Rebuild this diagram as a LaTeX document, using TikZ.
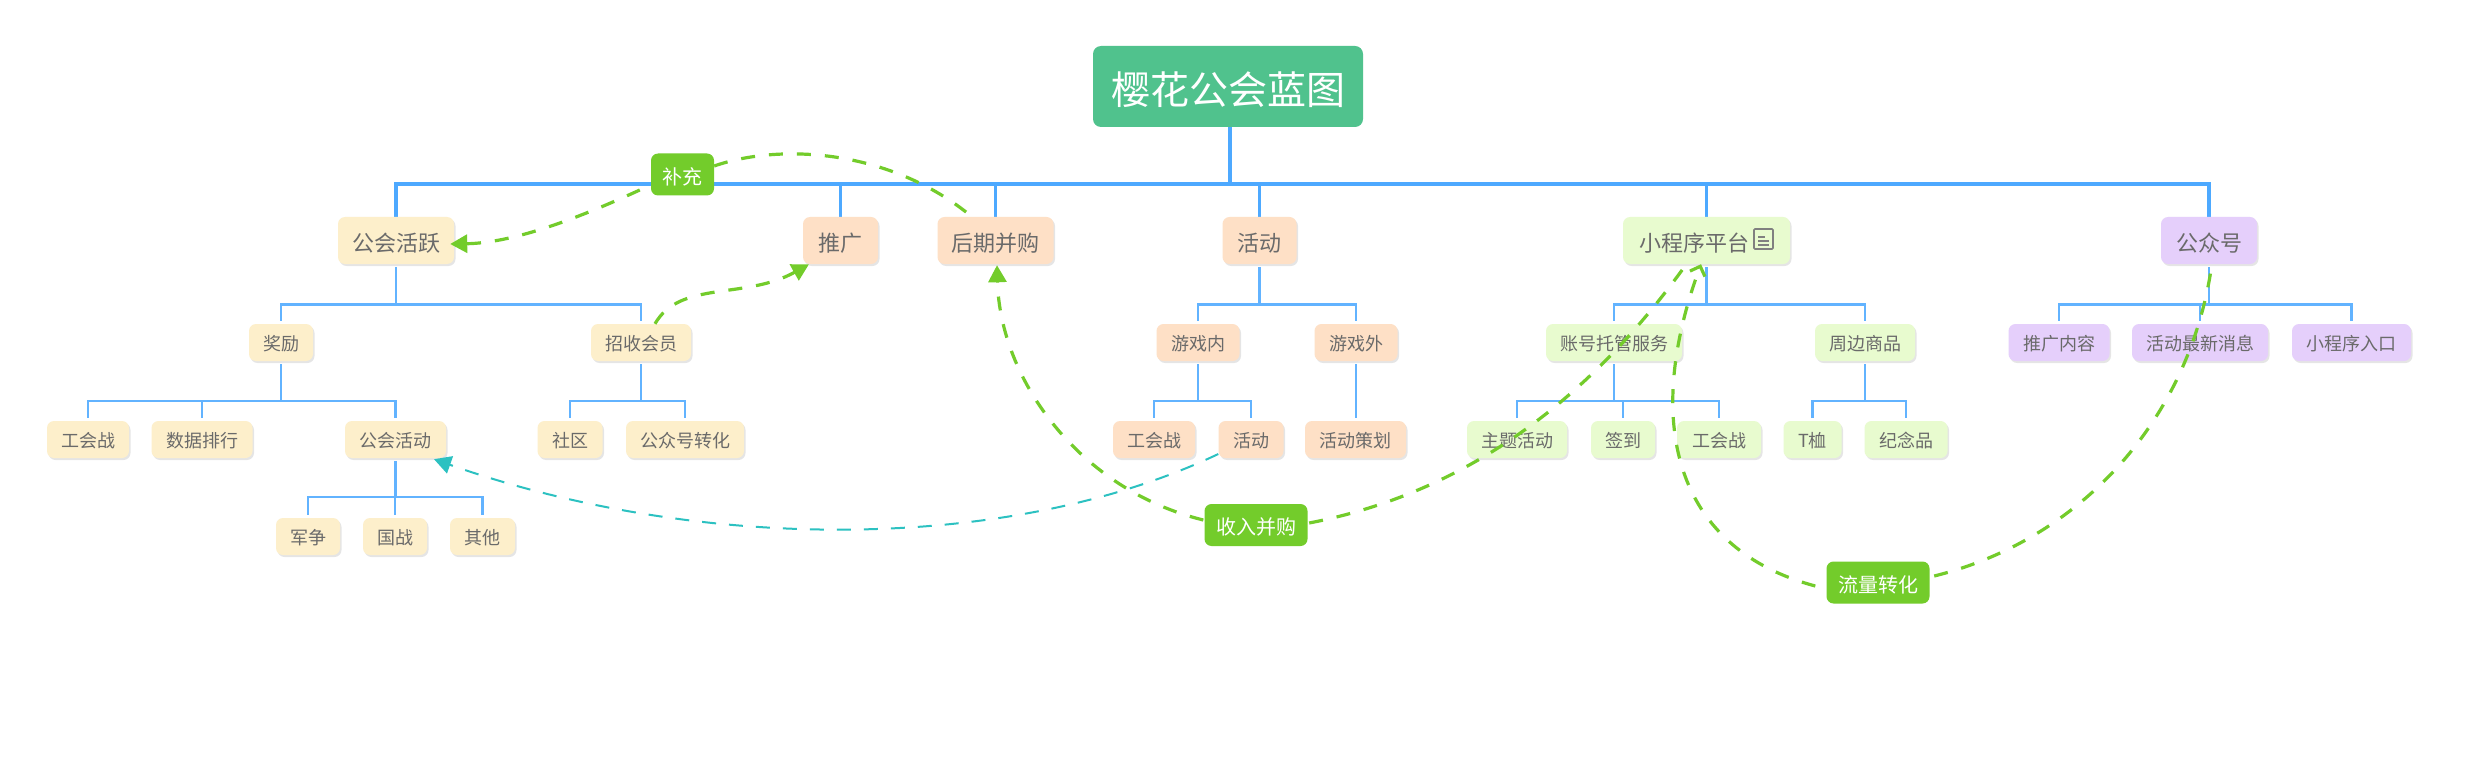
\documentclass[tikz,border=0pt]{standalone}
\usepackage{fontspec}
\setmainfont{Noto Sans CJK SC}
\usetikzlibrary{arrows.meta,shadows,backgrounds}
\definecolor{cyel}{HTML}{FDEFCB}
\definecolor{corg}{HTML}{FEE0C6}
\definecolor{cgrn}{HTML}{E8FBCF}
\definecolor{cpur}{HTML}{E5CFFB}
\definecolor{croot}{HTML}{50C28D}
\definecolor{clab}{HTML}{73CC2B}
\definecolor{cteal}{HTML}{2CC1C1}
\definecolor{cline}{HTML}{4DA9FF}
\definecolor{ctxt}{HTML}{6A6A6A}
\tikzset{
  box/.style={rectangle,rounded corners=7pt,inner sep=0pt,text=ctxt,anchor=center,
    drop shadow={shadow xshift=1.5pt,shadow yshift=-2pt,opacity=.2,fill=black!50}},
  rootbox/.style={rectangle,rounded corners=8pt,inner sep=0pt,fill=croot,text=white,minimum width=270pt,minimum height=81pt,text height=36pt,text depth=0pt,font=\fontsize{39}{48}\selectfont},
  topbox/.style={box,minimum height=47pt,text height=22.8pt,text depth=0pt,font=\fontsize{22}{26}\selectfont},
  subbox/.style={box,minimum height=37pt,text height=15.7pt,text depth=0pt,font=\fontsize{18}{22}\selectfont},
  labbox/.style={rectangle,rounded corners=7pt,inner sep=0pt,fill=clab,text=white,minimum height=42pt,text height=19.2pt,text depth=0pt,font=\fontsize{20}{24}\selectfont},
  busa/.style={draw=cline,line width=3.5pt},
  busb/.style={draw=cline!88!white,line width=2.6pt,shorten <=3pt,shorten >=3pt},
  busc/.style={draw=cline!88!white,line width=2.2pt,shorten <=3pt,shorten >=3pt},
  link/.style={draw=clab,line width=3.2pt,dash pattern=on 14pt off 14pt},
  tealink/.style={draw=cteal,line width=2pt,dash pattern=on 14pt off 13pt},
}
\begin{document}
\begin{tikzpicture}[x=1pt,y=-1pt]
\useasboundingbox (0,0) rectangle (2470,762);
% root
\node[rootbox] (root) at (1228,86.5) {樱花公会蓝图};
% level 1
\node[topbox,fill=cyel,minimum width=116pt] (gh) at (396,240.5) {公会活跃};
\node[topbox,fill=corg,minimum width=75pt] (tg) at (840.5,240.5) {推广};
\node[topbox,fill=corg,minimum width=116pt] (hq) at (995.5,240.5) {后期并购};
\node[topbox,fill=corg,minimum width=74pt] (hd) at (1259.5,240.5) {活动};
\node[topbox,fill=cgrn,minimum width=167pt] (xc) at (1706.5,240.5) {\makebox[134pt][l]{小程序平台}};
\node[topbox,fill=cpur,minimum width=96pt] (gz) at (2209,240.5) {公众号};
% level 2
\node[subbox,fill=cyel,minimum width=64pt] (jl) at (281,342.5) {奖励};
\node[subbox,fill=cyel,minimum width=100pt] (zs) at (641,342.5) {招收会员};
\node[subbox,fill=corg,minimum width=83pt] (yn) at (1198,342.5) {游戏内};
\node[subbox,fill=corg,minimum width=83pt] (yw) at (1356,342.5) {游戏外};
\node[subbox,fill=cgrn,minimum width=136pt] (zh) at (1614,342.5) {账号托管服务};
\node[subbox,fill=cgrn,minimum width=100pt] (zb) at (1865,342.5) {周边商品};
\node[subbox,fill=cpur,minimum width=101pt] (tn) at (2059,342.5) {推广内容};
\node[subbox,fill=cpur,minimum width=136pt] (zx) at (2200,342.5) {活动最新消息};
\node[subbox,fill=cpur,minimum width=119pt] (rk) at (2351.5,342.5) {小程序入口};
% level 3
\node[subbox,fill=cyel,minimum width=82pt] (gza) at (88,439.5) {工会战};
\node[subbox,fill=cyel,minimum width=101pt] (sj) at (202,439.5) {数据排行};
\node[subbox,fill=cyel,minimum width=101pt] (ghd) at (395.5,439.5) {公会活动};
\node[subbox,fill=cyel,minimum width=65pt] (sq) at (570,439.5) {社区};
\node[subbox,fill=cyel,minimum width=118pt] (zh3) at (685,439.5) {公众号转化};
\node[subbox,fill=corg,minimum width=82pt] (gzb) at (1154,439.5) {工会战};
\node[subbox,fill=corg,minimum width=65pt] (hd3) at (1251,439.5) {活动};
\node[subbox,fill=corg,minimum width=101pt] (ch) at (1355.5,439.5) {活动策划};
\node[subbox,fill=cgrn,minimum width=100pt] (zt) at (1517,439.5) {主题活动};
\node[subbox,fill=cgrn,minimum width=64pt] (qd) at (1623,439.5) {签到};
\node[subbox,fill=cgrn,minimum width=84pt] (gzc) at (1719,439.5) {工会战};
\node[subbox,fill=cgrn,minimum width=58pt] (tx) at (1812.5,439.5) {T桖};
\node[subbox,fill=cgrn,minimum width=83pt] (jn) at (1906,439.5) {纪念品};
% level 4
\node[subbox,fill=cyel,minimum width=64pt] (jz) at (308,536.5) {军争};
\node[subbox,fill=cyel,minimum width=64pt] (gw) at (395,536.5) {国战};
\node[subbox,fill=cyel,minimum width=65pt] (qt) at (482.5,536.5) {其他};
% free labels
\node[labbox,minimum width=63pt] (bc) at (682.5,174.5) {补充};
\node[labbox,minimum width=103pt] (sr) at (1256,525) {收入并购};
\node[labbox,minimum width=103pt] (ll) at (1878,582.5) {流量转化};
% icon of the mini program node
\draw[ctxt!85,line width=1.6pt,rounded corners=1pt] (1754,229) rectangle (1773,249);
\draw[ctxt!85,line width=1.3pt] (1758,237)--(1765,237) (1758,241)--(1769,241) (1758,245)--(1769,245);
% tree connectors
\begin{scope}[on background layer]
\fill[white] (0,0) rectangle (2470,762);
\foreach \c in {gh,tg,hq,hd,xc,gz}
  \draw[busa] ([xshift=2pt]root.south) -- ++(0,57) -| (\c.north);
\foreach \p/\c in {gh/jl,gh/zs,hd/yn,hd/yw,xc/zh,xc/zb,gz/tn,gz/zx,gz/rk}
  \draw[busb] (\p.south) -- ++(0,40) -| (\c.north);
\foreach \p/\c in {jl/gza,jl/sj,jl/ghd,zs/sq,zs/zh3,yn/gzb,yn/hd3,zh/zt,zh/qd,zh/gzc,zb/tx,zb/jn}
  \draw[busc] (\p.south) -- ++(0,39.5) -| (\c.north);
\draw[busc] (yw.south) -- (ch.north -| yw.south);
\foreach \c in {jz,gw,qt}
  \draw[busc] (ghd.south) -- ++(0,39) -| (\c.north);
\end{scope}
% dashed relations
\draw[link,-{Triangle[length=17pt,width=18pt]}] ([xshift=-11pt,yshift=-15.5pt]bc.west) .. controls (570,222) and (510,243) .. ([xshift=-4pt,yshift=-3.5pt]gh.east);
\draw[link] ([yshift=8.5pt]bc.east) .. controls (780,143) and (890,149) .. ([xshift=-23.5pt]hq.north);
\draw[link,-{Triangle[length=17pt,width=18pt]}] ([xshift=14pt]zs.north) .. controls (680,280) and (745,300) .. ([xshift=-31.5pt]tg.south);
\draw[tealink,-{Triangle[length=17pt,width=18pt]}] ([yshift=-14.5pt]hd3.west) .. controls (1010,553) and (700,553) .. ([xshift=38.5pt,yshift=-1pt]ghd.south);
\draw[link,-{Triangle[length=17pt,width=18pt]}] ([xshift=-1pt,yshift=5pt]sr.west) .. controls (1080,490) and (1000,380) .. ([xshift=1.5pt,yshift=-1pt]hq.south);
\draw[link] ([xshift=1.5pt,yshift=2pt]sr.east) .. controls (1480,490) and (1600,385) .. ([xshift=-19.5pt,yshift=1pt]xc.south);
\draw[link,-{Straight Barb[length=8pt,width=16pt]}] ([xshift=-11pt,yshift=-3.5pt]ll.west) .. controls (1680,550) and (1640,430) .. ([xshift=-5.5pt]xc.south);
\draw[link] ([xshift=4.5pt,yshift=6.5pt]ll.east) .. controls (2080,540) and (2190,420) .. ([xshift=3pt,yshift=1pt]gz.south);
\end{tikzpicture}
\end{document}
